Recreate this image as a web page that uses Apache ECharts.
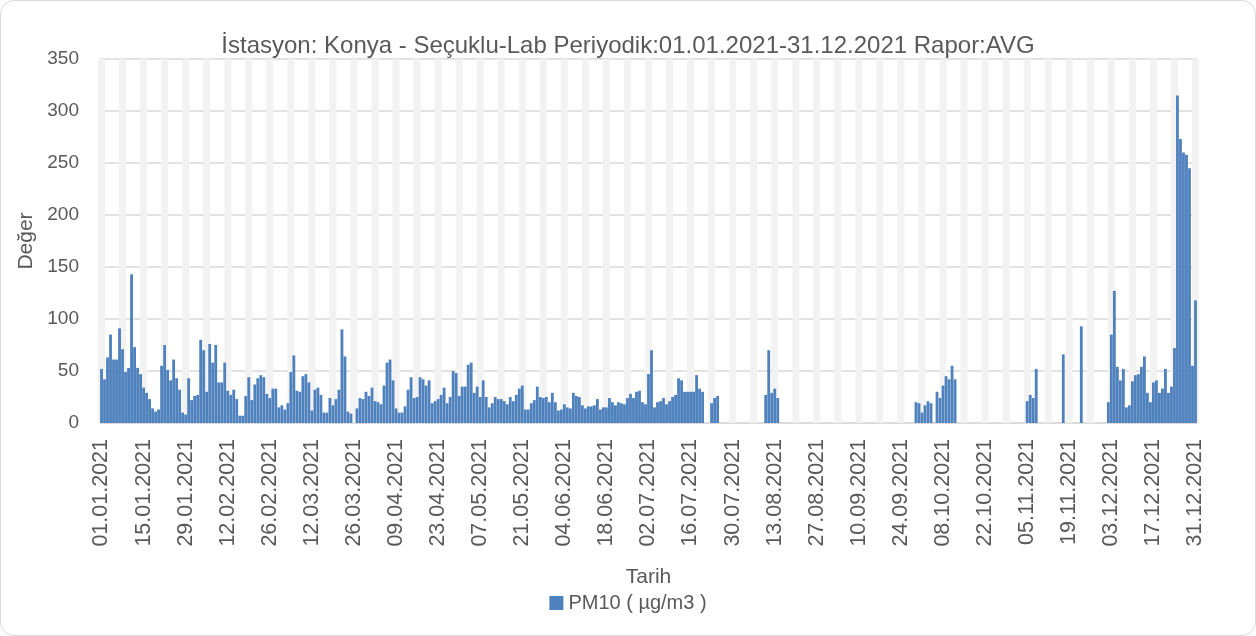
<!DOCTYPE html>
<html>
<head>
<meta charset="utf-8">
<script src="https://cdn.jsdelivr.net/npm/echarts@6/dist/echarts.min.js"></script>
<style>
    html, body { margin: 0; padding: 0; background: #fff; }
    #chart {
        width: 1256px;
        height: 636px;
        box-sizing: border-box;
        border: 1px solid #d9d9d9;
        border-radius: 14px;
    }
</style>
</head>
<body>
<div id="chart"></div>
<script>
// gunluk PM10 ortalamalari, 01.01.2021 - 31.12.2021 (null = veri yok)
const jan = [52, 42, 63, 85, 61, 61, 91, 71, 49, 53, 143, 73, 53, 47, 34, 29, 23, 14, 11, 13, 55, 75, 51, 41, 61, 43, 32, 10, 8, 43, 22];
const feb = [26, 27, 80, 70, 30, 76, 58, 75, 39, 39, 58, 31, 27, 32, 23, 7, 7, 26, 44, 22, 37, 43, 46, 44, 28, 24, 33, 33];
const mar = [15, 17, 13, 19, 49, 65, 31, 30, 45, 47, 39, 12, 32, 34, 27, 10, 10, 24, 17, 23, 32, 90, 64, 11, 9, null, 14, 24, 23, 30, 26];
const apr = [34, 21, 20, 18, 36, 58, 61, 41, 14, 10, 10, 16, 32, 44, 24, 25, 44, 42, 36, 41, 19, 21, 23, 27, 34, 19, 25, 50, 48, 26];
const may = [35, 35, 56, 58, 29, 35, 25, 41, 25, 15, 19, 25, 23, 23, 21, 18, 25, 21, 27, 33, 36, 13, 13, 19, 22, 35, 25, 24, 25, 20, 29];
const jun = [20, 12, 13, 18, 15, 14, 29, 26, 25, 17, 14, 16, 16, 17, 23, 13, 15, 15, 24, 20, 17, 20, 19, 18, 24, 28, 24, 30, 31, 20];
const jul = [18, 47, 70, 15, 20, 21, 24, 18, 21, 25, 27, 43, 41, 30, 30, 30, 30, 46, 33, 30, null, null, 19, 24, 26, null, null, null, null, null, null];
const aug = [null, null, null, null, null, null, null, null, null, 27, 70, 29, 33, 24, null, null, null, null, null, null, null, null, null, null, null, null, null, null, null, null, null];
const sep = [null, null, null, null, null, null, null, null, null, null, null, null, null, null, null, null, null, null, null, null, null, null, null, null, null, null, null, null, 20, 19];
const oct = [10, 17, 21, 19, null, 30, 24, 36, 45, 42, 55, 42, null, null, null, null, null, null, null, null, null, null, null, null, null, null, null, null, null, null, null];
const nov = [null, null, null, null, 21, 27, 24, 52, null, null, null, null, null, null, null, null, 66, null, null, null, null, null, 93, null, null, null, null, null, null, null];
const dec = [null, 20, 85, 127, 54, 41, 52, 15, 17, 40, 46, 47, 54, 64, 29, 20, 39, 41, 29, 33, 52, 29, 35, 72, 315, 273, 260, 258, 245, 55, 118];

const pm10 = [].concat(jan, feb, mar, apr, may, jun, jul, aug, sep, oct, nov, dec);

// gri seritler (her 7 gunde bir)
const stripeDays = [0, 7, 14, 21, 28, 35, 42, 49, 56, 63, 70, 77, 84, 91, 98, 105, 112, 119, 126, 133, 140, 147, 154, 161, 168, 175,
    182, 189, 196, 203, 210, 217, 224, 231, 238, 245, 252, 259, 266, 273, 280, 287, 294, 301, 308, 315, 322, 329, 336, 343, 350, 357, 364];
const stripeTop = 350;

const yMin = 0;
const yMax = 350;
const yStep = 50;

const seriesName = 'PM10 ( µg/m3 )';
const titleText = 'İstasyon: Konya - Seçuklu-Lab Periyodik:01.01.2021-31.12.2021 Rapor:AVG';

const pad = n => (n < 10 ? '0' + n : '' + n);
const days = [];
for (let d = new Date(2021, 0, 1); d.getFullYear() === 2021; d.setDate(d.getDate() + 1)) {
    days.push(pad(d.getDate()) + '.' + pad(d.getMonth() + 1) + '.2021');
}

const stripes = days.map(() => '-');
stripeDays.forEach(i => {
    stripes[i] = stripeTop;
});

const textColor = '#595959';
const font = "'Liberation Sans', Arial, sans-serif";

const chart = echarts.init(document.getElementById('chart'));
chart.setOption({
    animation: false,
    title: {
        text: titleText,
        left: 'center',
        top: 28,
        textStyle: {
            color: textColor,
            fontFamily: font,
            fontSize: 24,
            fontWeight: 'normal'
        }
    },
    legend: {
        data: [seriesName],
        bottom: 17,
        left: 'center',
        icon: 'rect',
        itemWidth: 14,
        itemHeight: 14,
        itemGap: 6,
        textStyle: {
            color: textColor,
            fontFamily: font,
            fontSize: 20
        }
    },
    grid: {
        left: 99,
        right: 58,
        top: 58,
        bottom: 212,
        containLabel: false
    },
    xAxis: [
        {
            type: 'category',
            data: days,
            boundaryGap: true,
            name: 'Tarih',
            nameLocation: 'middle',
            nameGap: 144,
            nameTextStyle: {
                color: textColor,
                fontFamily: font,
                fontSize: 21
            },
            axisLine: {
                lineStyle: { color: '#d9d9d9', width: 1.5 }
            },
            axisTick: {
                interval: 13,
                alignWithLabel: true,
                length: 6,
                lineStyle: { color: '#d9d9d9', width: 1.5 }
            },
            axisLabel: {
                interval: 13,
                rotate: 90,
                margin: 16,
                color: textColor,
                fontFamily: font,
                fontSize: 21.5
            },
            splitLine: { show: false }
        },
        {
            type: 'category',
            data: days,
            boundaryGap: true,
            show: false
        }
    ],
    yAxis: {
        type: 'value',
        min: yMin,
        max: yMax,
        interval: yStep,
        name: 'Değer',
        nameLocation: 'middle',
        nameGap: 52,
        nameTextStyle: {
            color: textColor,
            fontFamily: font,
            fontSize: 21
        },
        axisLine: { show: false },
        axisTick: { show: false },
        axisLabel: {
            color: textColor,
            fontFamily: font,
            fontSize: 19,
            margin: 21
        },
        splitLine: {
            lineStyle: { color: '#d9d9d9', width: 1.5 }
        }
    },
    series: [
        {
            name: 'stripes',
            type: 'bar',
            xAxisIndex: 1,
            data: stripes,
            barWidth: 7,
            clip: false,
            silent: true,
            itemStyle: { color: '#f2f2f2' }
        },
        {
            name: seriesName,
            type: 'bar',
            xAxisIndex: 0,
            data: pm10,
            barCategoryGap: '6%',
            itemStyle: { color: '#4f81bd' }
        }
    ]
});
</script>
</body>
</html>
